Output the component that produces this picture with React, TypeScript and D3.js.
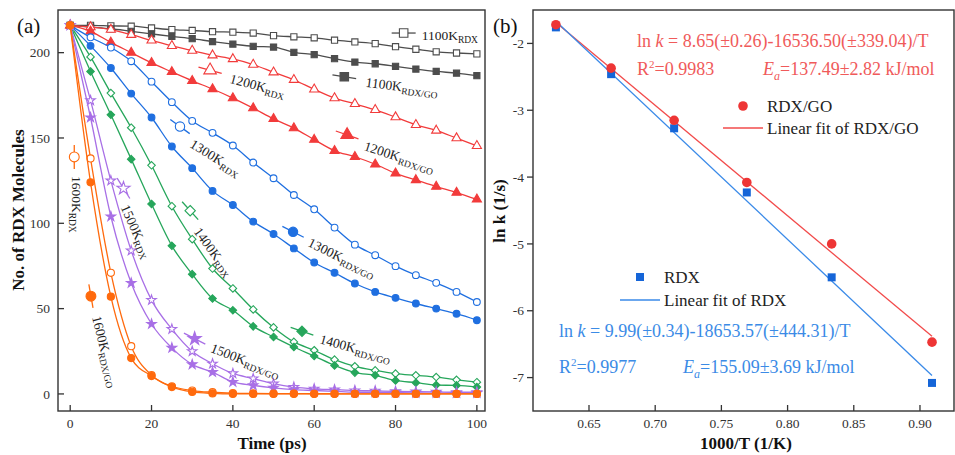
import React from 'react';
import * as d3 from 'd3';

const FONT = '"Liberation Serif", "Times New Roman", serif';

// ---- panel (a): number of RDX molecules vs time ----
const timePs = [0, 5, 10, 15, 20, 25, 30, 35, 40, 45, 50, 55, 60, 65, 70, 75, 80, 85, 90, 95, 100];

const rdx1100 = [216, 216, 215.7, 215.5, 214.5, 213.5, 213, 212.3, 212, 211.5, 210, 209.3, 208.7, 207.3, 206.3, 205.3, 203.5, 202, 200.5, 199.8, 199.3];
const go1100 = [216, 215, 214, 212.5, 211, 209.5, 208.2, 206.5, 205, 203.7, 203.3, 200.2, 198.8, 196.5, 194.5, 193.5, 192, 190.4, 189, 188, 186.5];
const rdx1200 = [216, 215, 213.5, 210.5, 207.2, 204, 201.2, 198.5, 196.3, 193, 188.5, 184.1, 178.5, 173.4, 170, 166.5, 162.2, 157.7, 154.4, 149.9, 145.4];
const go1200 = [216, 212.5, 206, 200, 194, 188.7, 183.5, 178.7, 173.4, 167.5, 161.2, 155.8, 149, 142.5, 139, 134.6, 129.3, 125.4, 121.5, 118, 114];
const rdx1300 = [216, 209, 203, 195, 183, 171, 160, 153, 145.6, 135.6, 126.4, 116.6, 108.2, 97.5, 87.5, 81.3, 74.9, 69.6, 65.1, 59.8, 53.9];
const go1300 = [216, 204, 191, 176, 162, 145, 132.3, 119, 110.7, 101, 93.7, 85.3, 77, 71, 64.7, 59.8, 56.3, 53, 50, 47, 43.2];
const rdx1400 = [216, 197.5, 176.3, 156, 134, 110, 90.7, 73.5, 61.8, 49.5, 39, 30.5, 25.6, 20.1, 16.2, 13.8, 11.9, 10.9, 9.9, 8.3, 6.9];
const go1400 = [216, 189, 163.6, 137.6, 111.3, 86.8, 70.2, 55.9, 49, 39.6, 33.4, 27.5, 22.2, 16.7, 12.5, 10.9, 7.9, 6.6, 5.2, 5, 4];
const rdx1500 = [216, 172, 125, 84, 55, 38, 25, 17.7, 12, 9, 6, 4, 3, 2.5, 2, 1.8, 1.5, 1.3, 1.2, 1, 1];
const go1500 = [216, 162, 104, 65, 41, 27, 17.3, 12.8, 7, 5, 3.5, 2.5, 2, 1.5, 1, 1, 0.8, 0.6, 0.5, 0.5, 0.5];
const rdx1600 = [216, 138, 71, 28, 11, 4.5, 2, 1, 0.5, 0.3, 0.2, 0.2, 0.1, 0.1, 0, 0, 0, 0, 0, 0, 0];
const go1600 = [216, 124, 57, 21, 10.5, 4, 1.2, 0.3, 0, 0, 0, 0, 0, 0, 0, 0, 0, 0, 0, 0, 0];

const timeTicks = [0, 20, 40, 60, 80, 100];
const countTicks = [0, 50, 100, 150, 200];

// ---- panel (b): Arrhenius plot ----
const invT = [0.625, 0.6667, 0.7143, 0.7692, 0.8333, 0.9091];
const lnkGo = [-1.72, -2.37, -3.15, -4.08, -5.0, -6.47];
const lnkRdx = [-1.76, -2.46, -3.27, -4.23, -5.5, -7.08];
// fitted ln k = a - b * (1000/T), b given per 1000 K
const fitGo = { a: 8.65, b: 16.5365 };
const fitRdx = { a: 9.99, b: 18.65357 };
const invTTicks = [0.65, 0.7, 0.75, 0.8, 0.85, 0.9];
const lnkTicks = [-2, -3, -4, -5, -6, -7];

const runs = [
  { temp: '1100K', color: '#4d4d4d', sym: d3.symbolSquare, size: 38, rdx: rdx1100, go: go1100 },
  { temp: '1200K', color: '#f23b3b', sym: d3.symbolTriangle, size: 36, rdx: rdx1200, go: go1200 },
  { temp: '1300K', color: '#1f6fe0', sym: d3.symbolCircle, size: 36, rdx: rdx1300, go: go1300 },
  { temp: '1400K', color: '#26a65b', sym: d3.symbolDiamond2, size: 36, rdx: rdx1400, go: go1400 },
  { temp: '1500K', color: '#a86fe6', sym: d3.symbolStar, size: 28, rdx: rdx1500, go: go1500 },
  { temp: '1600K', color: '#ff6a0d', sym: d3.symbolCircle, size: 40, rdx: rdx1600, go: go1600 },
];

// in-plot labels: marker anchor (data coords), segment angle, text offset (px) and angle
const labels = [
  { run: 0, go: false, t: 82, v: 211.5, seg: 0, dx: 18, dy: 7, rot: 0 },
  { run: 0, go: true, t: 67.4, v: 185.9, seg: 9, dx: 21, dy: 10, rot: 7 },
  { run: 1, go: false, t: 34.4, v: 189.7, seg: 15, dx: 19, dy: 12.5, rot: 15 },
  { run: 1, go: true, t: 68.1, v: 151.8, seg: 19, dx: 16, dy: 15, rot: 18 },
  { run: 2, go: false, t: 27, v: 156.7, seg: 36, dx: 9, dy: 20, rot: 32 },
  { run: 2, go: true, t: 54.8, v: 95, seg: 27, dx: 14, dy: 14, rot: 26 },
  { run: 3, go: false, t: 29.5, v: 107.4, seg: 48, dx: 3, dy: 21, rot: 54 },
  { run: 3, go: true, t: 57, v: 36.7, seg: 19, dx: 17, dy: 12, rot: 15 },
  { run: 4, go: false, t: 13.1, v: 120.5, seg: 58, dx: -3, dy: 19, rot: 66 },
  { run: 4, go: true, t: 30.6, v: 32.4, seg: 27, dx: 15, dy: 13, rot: 21 },
  { run: 5, go: false, t: 1, v: 138.9, seg: 90, dx: -2, dy: 19, rot: 90 },
  { run: 5, go: true, t: 5.1, v: 57.3, seg: 80, dx: 1, dy: 21, rot: 76 },
];

const xA = d3.scaleLinear().domain([-3, 102]).range([58, 485]);
const yA = d3.scaleLinear().domain([-10, 225]).range([411, 10]);
const xB = d3.scaleLinear().domain([0.6077, 0.9257]).range([533, 954]);
const yB = d3.scaleLinear().domain([-7.5, -1.5]).range([411, 10]);

const RED = '#ee3535';
const RED_LINE = '#f24b4b';
const RED_TEXT = '#f05a5a';
const BLUE = '#1565d8';
const BLUE_LINE = '#3a8ae8';
const BLUE_TEXT = '#3b8be6';
const AXIS = '#333';

const sym = (type: any, size: number) => d3.symbol().type(type).size(size)() as string;

const Marker = ({ x, y, run, open, scale = 1 }: any) => (
  <path
    d={sym(run.sym, run.size * scale)}
    transform={`translate(${x},${y})`}
    fill={open ? '#fff' : run.color}
    stroke={run.color}
    strokeWidth={1.1}
  />
);

const PanelA = () => {
  const line = d3
    .line<number>()
    .x((_, i) => xA(timePs[i]))
    .y((d) => yA(d))
    .curve(d3.curveMonotoneX);
  return (
    <g>
      {runs.map((r) =>
        [false, true].map((isGo) => {
          const vals = isGo ? r.go : r.rdx;
          return (
            <g key={r.temp + isGo}>
              <path d={line(vals) as string} fill="none" stroke={r.color} strokeWidth={1.3} />
              {vals.map((v, i) => (
                <Marker key={i} x={xA(timePs[i])} y={yA(v)} run={r} open={!isGo} />
              ))}
            </g>
          );
        })
      )}
      {labels.map((l, i) => {
        const r = runs[l.run];
        const mx = xA(l.t);
        const my = yA(l.v);
        return (
          <g key={i}>
            <g transform={`translate(${mx},${my}) rotate(${l.seg})`}>
              <line x1={-12} x2={12} y1={0} y2={0} stroke={r.color} strokeWidth={1.3} />
            </g>
            <Marker x={mx} y={my} run={r} open={!l.go} scale={1.9} />
            <text
              transform={`translate(${mx + l.dx},${my + l.dy}) rotate(${l.rot})`}
              fontFamily={FONT}
              fontSize={13.5}
              fill="#222"
            >
              {r.temp}
              <tspan fontSize={9.5} dy={3}>
                {l.go ? 'RDX/GO' : 'RDX'}
              </tspan>
            </text>
          </g>
        );
      })}
      <rect x={58} y={10} width={427} height={401} fill="none" stroke={AXIS} strokeWidth={1.4} />
      {timeTicks.map((t) => (
        <g key={t}>
          <line x1={xA(t)} x2={xA(t)} y1={411} y2={405} stroke={AXIS} strokeWidth={1.3} />
          <text x={xA(t)} y={428} textAnchor="middle" fontFamily={FONT} fontSize={13.5} fill={AXIS}>
            {t}
          </text>
        </g>
      ))}
      {countTicks.map((c) => (
        <g key={c}>
          <line x1={58} x2={64} y1={yA(c)} y2={yA(c)} stroke={AXIS} strokeWidth={1.3} />
          <text x={50} y={yA(c)} dy="0.35em" textAnchor="end" fontFamily={FONT} fontSize={13.5} fill={AXIS}>
            {c}
          </text>
        </g>
      ))}
      <text x={272} y={449} textAnchor="middle" fontFamily={FONT} fontWeight="bold" fontSize={17} fill="#111">
        Time (ps)
      </text>
      <text
        transform="translate(24,210) rotate(-90)"
        textAnchor="middle"
        fontFamily={FONT}
        fontWeight="bold"
        fontSize={17}
        fill="#111"
      >
        No. of RDX Molecules
      </text>
      <text x={17} y={33} fontFamily={FONT} fontSize={21} fill="#111">
        (a)
      </text>
    </g>
  );
};

const PanelB = () => {
  const fitLine = (f: { a: number; b: number }) => {
    const xs = [invT[0], invT[invT.length - 1]];
    return d3
      .line<number>()
      .x((d) => xB(d))
      .y((d) => yB(f.a - f.b * d))(xs) as string;
  };
  const sq = sym(d3.symbolSquare, 64);
  return (
    <g>
      <path d={fitLine(fitGo)} fill="none" stroke={RED_LINE} strokeWidth={1.3} />
      <path d={fitLine(fitRdx)} fill="none" stroke={BLUE_LINE} strokeWidth={1.3} />
      {invT.map((x, i) => (
        <path key={'r' + i} d={sq} transform={`translate(${xB(x)},${yB(lnkRdx[i])})`} fill={BLUE} />
      ))}
      {invT.map((x, i) => (
        <circle key={'g' + i} cx={xB(x)} cy={yB(lnkGo[i])} r={4.8} fill={RED} />
      ))}
      <rect x={533} y={10} width={421} height={401} fill="none" stroke={AXIS} strokeWidth={1.4} />
      {invTTicks.map((t) => (
        <g key={t}>
          <line x1={xB(t)} x2={xB(t)} y1={411} y2={405} stroke={AXIS} strokeWidth={1.3} />
          <text x={xB(t)} y={428} textAnchor="middle" fontFamily={FONT} fontSize={13.5} fill={AXIS}>
            {t.toFixed(2)}
          </text>
        </g>
      ))}
      {lnkTicks.map((t) => (
        <g key={t}>
          <line x1={527} x2={533} y1={yB(t)} y2={yB(t)} stroke={AXIS} strokeWidth={1.3} />
          <text x={524} y={yB(t)} dy="0.35em" textAnchor="end" fontFamily={FONT} fontSize={13.5} fill={AXIS}>
            {t}
          </text>
        </g>
      ))}
      <text x={746} y={449} textAnchor="middle" fontFamily={FONT} fontWeight="bold" fontSize={17} fill="#111">
        1000/T (1/K)
      </text>
      <text
        transform="translate(505,211) rotate(-90)"
        textAnchor="middle"
        fontFamily={FONT}
        fontWeight="bold"
        fontSize={17}
        fill="#111"
      >
        ln k (1/s)
      </text>
      <text x={493} y={33} fontFamily={FONT} fontSize={21} fill="#111">
        (b)
      </text>

      {/* RDX/GO fit text */}
      <g fontFamily={FONT} fontSize={18} fill={RED_TEXT}>
        <text x={637} y={47}>
          ln <tspan fontStyle="italic">k</tspan> = 8.65(±0.26)-16536.50(±339.04)/T
        </text>
        <text x={637} y={75}>
          R<tspan fontSize={11} dy={-7}>2</tspan>
          <tspan dy={7}>=0.9983</tspan>
        </text>
        <text x={763} y={75}>
          <tspan fontStyle="italic">E</tspan>
          <tspan fontStyle="italic" fontSize={12} dy={5}>a</tspan>
          <tspan dy={-5}>=137.49±2.82 kJ/mol</tspan>
        </text>
      </g>
      {/* RDX fit text */}
      <g fontFamily={FONT} fontSize={18} fill={BLUE_TEXT}>
        <text x={559} y={337}>
          ln <tspan fontStyle="italic">k</tspan> = 9.99(±0.34)-18653.57(±444.31)/T
        </text>
        <text x={559} y={373}>
          R<tspan fontSize={11} dy={-7}>2</tspan>
          <tspan dy={7}>=0.9977</tspan>
        </text>
        <text x={683} y={373}>
          <tspan fontStyle="italic">E</tspan>
          <tspan fontStyle="italic" fontSize={12} dy={5}>a</tspan>
          <tspan dy={-5}>=155.09±3.69 kJ/mol</tspan>
        </text>
      </g>

      {/* legends */}
      <g fontFamily={FONT} fontSize={17} fill="#222">
        <circle cx={743} cy={106} r={4.8} fill={RED} />
        <text x={767} y={112}>RDX/GO</text>
        <line x1={723} x2={763} y1={128} y2={128} stroke={RED_LINE} strokeWidth={1.3} />
        <text x={767} y={134}>Linear fit of RDX/GO</text>
        <path d={sq} transform="translate(640,277)" fill={BLUE} />
        <text x={664} y={283}>RDX</text>
        <line x1={620} x2={660} y1={300} y2={300} stroke={BLUE_LINE} strokeWidth={1.3} />
        <text x={664} y={306}>Linear fit of RDX</text>
      </g>
    </g>
  );
};

export default function App() {
  return (
    <svg
      width={955}
      height={455}
      style={{ position: 'absolute', left: 0, top: 0, background: '#fff' }}
    >
      <rect width={955} height={455} fill="#fff" />
      <PanelA />
      <PanelB />
    </svg>
  );
}
